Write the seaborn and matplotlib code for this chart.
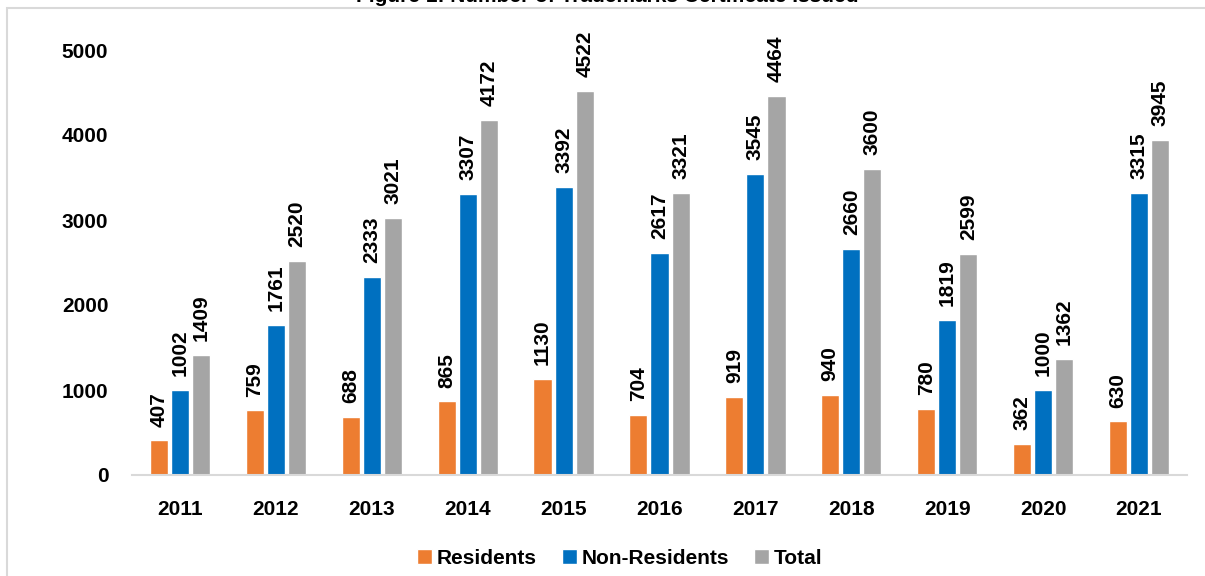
import pandas as pd
import numpy as np
import matplotlib.pyplot as plt
import seaborn as sns
from matplotlib.patches import Rectangle

# -- 数据 --
years = ['2011', '2012', '2013', '2014', '2015', '2016', '2017', '2018', '2019', '2020', '2021']
residents = [407, 759, 688, 865, 1130, 704, 919, 940, 780, 362, 630]
non_residents = [1002, 1761, 2333, 3307, 3392, 2617, 3545, 2660, 1819, 1000, 3315]
total = [1409, 2520, 3021, 4172, 4522, 3321, 4464, 3600, 2599, 1362, 3945]
series_names = ['Residents', 'Non-Residents', 'Total']
colors = ['#ED7D31', '#0070C0', '#A5A5A5']

df = pd.DataFrame({
    'year': years * 3,
    'value': residents + non_residents + total,
    'series': [s for s in series_names for _ in years],
})

sns.set_style("white")
plt.rcParams['font.family'] = ['Liberation Sans', 'DejaVu Sans']
plt.rcParams['font.weight'] = 'bold'
plt.rcParams['text.color'] = 'black'
plt.rcParams['xtick.color'] = 'black'
plt.rcParams['ytick.color'] = 'black'
fs = 15

fig = plt.figure(figsize=(12.05, 5.76), dpi=100)
ax = fig.add_axes([132 / 1205, 1 - 475 / 576, (1187 - 132) / 1205, (475 - 50) / 576])

sns.barplot(data=df, x='year', y='value', hue='series', palette=colors, saturation=1,
            width=0.66, gap=0.14, ax=ax, legend=True)

# 数据标签
for cont in ax.containers:
    ax.bar_label(cont, fmt='%d', rotation=90, padding=10, fontsize=fs, fontweight='bold',
                 color='black')

ax.set_ylim(0, 5000)
ax.set_yticks(range(0, 5001, 1000))
ax.set_xlabel('')
ax.set_ylabel('')
ax.tick_params(axis='both', length=0, labelsize=fs, labelcolor='black')
ax.tick_params(axis='x', pad=18)
ax.tick_params(axis='y', pad=17)
for lab in ax.get_xticklabels() + ax.get_yticklabels():
    lab.set_fontweight('bold')
for side in ['top', 'right', 'left']:
    ax.spines[side].set_visible(False)
ax.spines['bottom'].set_color('#D9D9D9')
ax.spines['bottom'].set_linewidth(1.5)

ax.legend(loc='upper center', bbox_to_anchor=(0.4625, -0.13), ncol=3, frameon=False,
          handlelength=0.7, handleheight=0.7, handletextpad=0.25,
          columnspacing=1.2, prop={'weight': 'bold', 'size': fs})

# 外框和被截掉的标题
fig.patches.append(Rectangle((7 / 1205, -0.1), 1.2, 1.1 - 8 / 576, transform=fig.transFigure,
                             fill=False, edgecolor='#D9D9D9', linewidth=1.5))
fig.text(607 / 1205, 1 - 2 / 576, 'Figure 1: Number of Trademarks Certificate Issued',
         ha='center', va='baseline', fontsize=fs, fontweight='bold')

plt.savefig('out.png', dpi=100)
